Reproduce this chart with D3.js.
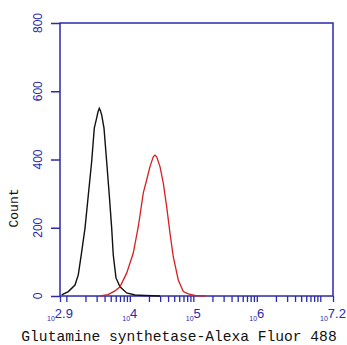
<!DOCTYPE html>
<html><head><meta charset="utf-8">
<script src="https://cdn.jsdelivr.net/npm/d3@7"></script>
<style>body{margin:0;background:#fff}svg{display:block}</style>
</head><body>
<script>
// Data: log10 fluorescence intensity and event counts
const blackLog = [2.927,3.031,3.136,3.188,3.242,3.294,3.346,3.399,3.440,3.478,3.498,3.519,3.538,3.557,3.593,3.635,3.676,3.714,3.739,3.782,3.845,3.950,4.081,4.239,4.475];
const blackCount = [3,13,32,62,130,199,296,394,492,522,539,550,542,530,492,394,296,199,120,53,27,9,3,1.5,0];
const redLog = [3.530,3.656,3.766,3.845,3.950,4.054,4.133,4.212,4.265,4.317,4.369,4.396,4.423,4.475,4.527,4.580,4.632,4.684,4.763,4.842,4.920,5.026,5.183];
const redCount = [0,4,15,27,67,126,203,302,340,379,408,413,408,379,331,262,185,115,47,13,6,1.5,0];
const yTicks = [0,200,400,600,800];
const xTickExps = ["2.9","4","5","6","7.2"];
const xLabel = "Glutamine synthetase-Alexa Fluor 488";
const yLabel = "Count";

const W = 347, H = 345;
const m = {l:60, r:14, t:23, b:49};
const blue = "#2a2aaa";
const svg = d3.select("body").append("svg").attr("width", W).attr("height", H);

const x = d3.scaleLog().domain([Math.pow(10,2.9), Math.pow(10,7.2)]).range([m.l, W - m.r]);
const y = d3.scaleLinear().domain([0,800]).range([H - m.b, m.t]);

// box
svg.append("rect").attr("x", m.l).attr("y", m.t)
  .attr("width", W - m.r - m.l).attr("height", H - m.b - m.t)
  .attr("fill","none").attr("stroke", blue).attr("stroke-width", 1.5);

// x minor ticks
const minor = [];
for (let e = 3; e <= 7; e++) for (let k = 1; k <= 9; k++) { const v = k*Math.pow(10,e); if (v <= Math.pow(10,7.2)) minor.push(v); }
minor.push(Math.pow(10,2.9)); minor.push(Math.pow(10,7.2));
const xAxis = d3.axisBottom(x).tickValues(minor).tickSize(6).tickFormat("");
const gx = svg.append("g").attr("transform", `translate(0,${H - m.b})`).call(xAxis);
gx.select(".domain").remove();
gx.selectAll("line").attr("stroke", blue).attr("stroke-width", 1.3);

// x tick labels
xTickExps.forEach(e => {
  const t = svg.append("text").attr("x", x(Math.pow(10, +e))).attr("y", 321)
    .attr("text-anchor","middle").attr("fill", blue)
    .attr("font-family","Liberation Sans, Arial, sans-serif");
  t.append("tspan").attr("font-size", 7).text("10");
  t.append("tspan").attr("font-size", 13).attr("dy", -3).text(e);
});

// y axis
const yAxis = d3.axisLeft(y).tickValues(yTicks).tickSize(9).tickFormat("");
const gy = svg.append("g").attr("transform", `translate(${m.l},0)`).call(yAxis);
gy.select(".domain").remove();
gy.selectAll("line").attr("stroke", blue).attr("stroke-width", 1.5);
yTicks.forEach(v => {
  svg.append("text").attr("transform", `translate(42,${y(v)}) rotate(-90)`)
    .attr("text-anchor","middle").attr("fill", blue)
    .attr("font-family","Liberation Sans, Arial, sans-serif").attr("font-size", 12)
    .text(v);
});

// curves
const line = d3.line().x(d => x(Math.pow(10, d[0]))).y(d => y(d[1]));
svg.append("path").datum(blackLog.map((v,i)=>[v, blackCount[i]]))
  .attr("d", line).attr("fill","none").attr("stroke","#111").attr("stroke-width",1.4);
svg.append("path").datum(redLog.map((v,i)=>[v, redCount[i]]))
  .attr("d", line).attr("fill","none").attr("stroke","#d42020").attr("stroke-width",1.3);

// labels
svg.append("text").attr("x", 179).attr("y", 341).attr("text-anchor","middle")
  .attr("font-family","Liberation Mono, Courier New, monospace").attr("font-size", 14.6)
  .attr("fill","#111").text(xLabel);
svg.append("text").attr("transform","translate(18,208) rotate(-90)").attr("text-anchor","middle")
  .attr("font-family","Liberation Mono, Courier New, monospace").attr("font-size", 13)
  .attr("fill","#111").text(yLabel);
</script>
</body></html>
